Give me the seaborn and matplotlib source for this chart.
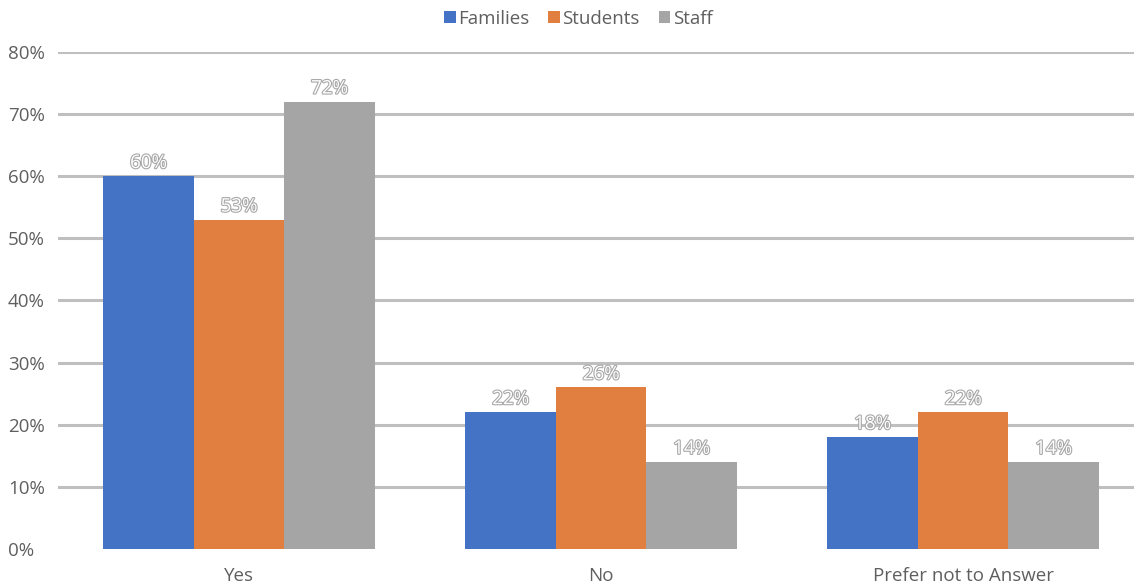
import matplotlib
matplotlib.use("Agg")
import matplotlib.pyplot as plt
import matplotlib.patheffects as pe
from matplotlib.patches import Patch
import seaborn as sns
import pandas as pd

categories = ["Yes", "No", "Prefer not to Answer"]
groups = ["Families", "Students", "Staff"]
families = [0.60, 0.22, 0.18]
students = [0.53, 0.26, 0.22]
staff = [0.72, 0.14, 0.14]
yticks = [0.0, 0.1, 0.2, 0.3, 0.4, 0.5, 0.6, 0.7, 0.8]
ytick_labels = ["0%", "10%", "20%", "30%", "40%", "50%", "60%", "70%", "80%"]
colors = ["#4472C4", "#E07F3F", "#A5A5A5"]

rows = []
for g, vals in zip(groups, [families, students, staff]):
    for c, v in zip(categories, vals):
        rows.append({"Answer": c, "Group": g, "Share": v})
df = pd.DataFrame(rows)

sns.set_theme(style="white")
plt.rcParams["font.family"] = ["Open Sans", "DejaVu Sans"]

text_grey = "#5F5F5F"
fig = plt.figure(figsize=(11.34, 5.88), dpi=100)
ax = fig.add_axes([0.0511, 0.0663, 0.9489, 0.8453])

sns.barplot(data=df, x="Answer", y="Share", hue="Group", order=categories,
            hue_order=groups, palette=colors, width=0.75, gap=0,
            saturation=1, linewidth=0, edgecolor="none",
            ax=ax, legend=False, zorder=3)

ax.set_ylim(0, 0.8)
ax.set_xlim(-0.5, 2.472)
ax.set_yticks(yticks)
ax.set_yticklabels(ytick_labels)
for y in yticks[1:]:
    ax.axhline(y, color="#BFBFBF", lw=2.2, zorder=1)
ax.grid(False)
for s in ax.spines.values():
    s.set_visible(False)
ax.tick_params(axis="y", length=0, pad=36, labelsize=13.5, labelcolor=text_grey)
ax.tick_params(axis="x", length=0, pad=13, labelsize=13.5, labelcolor=text_grey)
for lbl in ax.get_yticklabels():
    lbl.set_horizontalalignment("left")
ax.set_xlabel("")
ax.set_ylabel("")

outline = [pe.Stroke(linewidth=1.6, foreground="#A8A8A8"), pe.Normal()]
for container in ax.containers:
    for bar in container:
        h = bar.get_height()
        ax.annotate(f"{h * 100:.0f}%", (bar.get_x() + bar.get_width() / 2, h),
                    xytext=(0, 3), textcoords="offset points",
                    ha="center", va="bottom", fontsize=13.5, color="white",
                    path_effects=outline, zorder=4)

handles = [Patch(facecolor=c, edgecolor="none") for c in colors]
fig.legend(handles, groups, loc="upper center", bbox_to_anchor=(0.51, 1.012),
           ncol=3, frameon=False, fontsize=13.5, labelcolor=text_grey,
           handlelength=0.6, handleheight=0.6, handletextpad=0.15,
           columnspacing=1.0)

fig.savefig("out.png", dpi=100)
